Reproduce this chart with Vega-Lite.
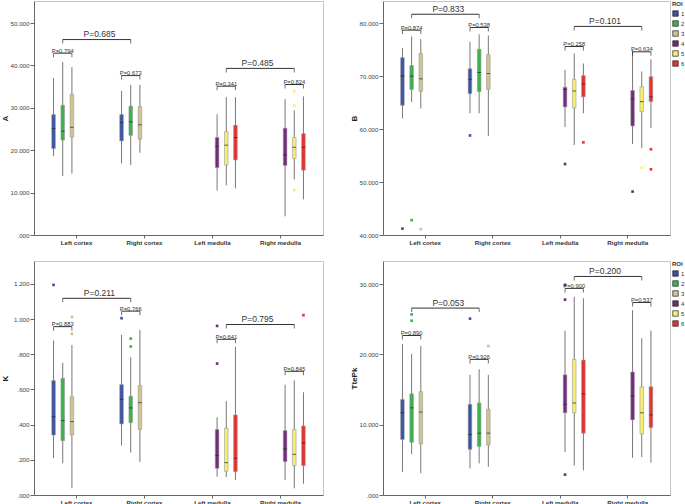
{
  "$schema": "https://vega.github.io/schema/vega-lite/v6.json",
  "padding": {"left": 0, "top": 0, "right": 0, "bottom": 0},
  "config": {
    "font": "Liberation Sans",
    "view": {"stroke": "#c6c6c6", "strokeWidth": 1},
    "axisX": {"labelFontSize": 6.2, "labelFontWeight": "bold", "labelColor": "#333", "tickSize": 3, "tickColor": "#666", "domainColor": "#666", "labelPadding": 1, "labelAngle": 0, "minExtent": 12, "maxExtent": 12, "grid": false},
    "axisY": {"labelFontSize": 6.2, "labelColor": "#444", "tickSize": 4, "tickColor": "#666", "domainColor": "#666", "labelPadding": 1, "labelOverlap": false, "tickCount": 12, "grid": false, "minExtent": 25, "maxExtent": 25, "titleFontSize": 8, "titleFontWeight": "bold", "titleColor": "#222", "titlePadding": 0},
    "legend": {"orient": "right", "offset": 2, "padding": 0, "titleFontSize": 6, "titleFontWeight": "bold", "titleColor": "#333", "titlePadding": 3, "labelFontSize": 6, "labelColor": "#333", "symbolSize": 30, "symbolType": "square", "symbolStrokeColor": "#222", "symbolStrokeWidth": 0.7, "rowPadding": 1, "labelOffset": 2}
  },
  "datasets": {
    "d": [
      {"p":"A","k":"box","r":"Left cortex","roi":1,"lo":18.6,"q1":20.4,"md":25.1,"q3":28.4,"hi":37.0},
      {"p":"A","k":"box","r":"Left cortex","roi":2,"lo":13.9,"q1":22.4,"md":24.5,"q3":30.6,"hi":40.8},
      {"p":"A","k":"box","r":"Left cortex","roi":3,"lo":14.5,"q1":23.1,"md":25.4,"q3":33.2,"hi":39.6},
      {"p":"A","k":"box","r":"Right cortex","roi":1,"lo":16.9,"q1":22.2,"md":26.5,"q3":28.4,"hi":34.0},
      {"p":"A","k":"box","r":"Right cortex","roi":2,"lo":16.5,"q1":23.5,"md":26.7,"q3":30.4,"hi":35.4},
      {"p":"A","k":"box","r":"Right cortex","roi":3,"lo":19.4,"q1":22.6,"md":26.0,"q3":30.3,"hi":35.4},
      {"p":"A","k":"box","r":"Left medulla","roi":4,"lo":10.5,"q1":15.9,"md":20.9,"q3":23.0,"hi":28.5},
      {"p":"A","k":"box","r":"Left medulla","roi":5,"lo":11.7,"q1":16.5,"md":21.2,"q3":24.4,"hi":32.5},
      {"p":"A","k":"box","r":"Left medulla","roi":6,"lo":11.0,"q1":17.7,"md":23.0,"q3":25.9,"hi":32.5},
      {"p":"A","k":"box","r":"Right medulla","roi":4,"lo":4.4,"q1":16.4,"md":18.9,"q3":25.2,"hi":32.1},
      {"p":"A","k":"box","r":"Right medulla","roi":5,"lo":13.1,"q1":18.0,"md":20.7,"q3":23.0,"hi":29.4},
      {"p":"A","k":"box","r":"Right medulla","roi":6,"lo":8.4,"q1":15.3,"md":20.7,"q3":23.9,"hi":32.7},
      {"p":"A","k":"out","r":"Right medulla","roi":5,"v":33.9},
      {"p":"A","k":"out","r":"Right medulla","roi":5,"v":30.5},
      {"p":"A","k":"out","r":"Right medulla","roi":5,"v":10.6},
      {"p":"A","k":"brk","id":"a1","r":"Left cortex","roi":1,"v":42.9},
      {"p":"A","k":"brk","id":"a1","r":"Left cortex","roi":3,"v":42.9},
      {"p":"A","k":"brk","id":"a2","r":"Left cortex","roi":2,"v":46.1},
      {"p":"A","k":"brk","id":"a2","r":"Right cortex","roi":2,"v":46.1},
      {"p":"A","k":"brk","id":"a3","r":"Right cortex","roi":1,"v":37.6},
      {"p":"A","k":"brk","id":"a3","r":"Right cortex","roi":3,"v":37.6},
      {"p":"A","k":"brk","id":"a4","r":"Left medulla","roi":5,"v":39.3},
      {"p":"A","k":"brk","id":"a4","r":"Right medulla","roi":5,"v":39.3},
      {"p":"A","k":"brk","id":"a5","r":"Left medulla","roi":4,"v":35.1},
      {"p":"A","k":"brk","id":"a5","r":"Left medulla","roi":6,"v":35.1},
      {"p":"A","k":"brk","id":"a6","r":"Right medulla","roi":4,"v":35.5},
      {"p":"A","k":"brk","id":"a6","r":"Right medulla","roi":6,"v":35.5},
      {"p":"A","k":"lab","r":"Left cortex","roi":2,"v":42.9,"t":"P=0.794","big":false},
      {"p":"A","k":"lab","r":"Left cortex","roi":6,"v":46.1,"t":"P=0.685","big":true},
      {"p":"A","k":"lab","r":"Right cortex","roi":2,"v":37.6,"t":"P=0.673","big":false},
      {"p":"A","k":"lab","r":"Right medulla","roi":1,"v":39.3,"t":"P=0.485","big":true},
      {"p":"A","k":"lab","r":"Left medulla","roi":5,"v":35.1,"t":"P=0.341","big":false},
      {"p":"A","k":"lab","r":"Right medulla","roi":5,"v":35.5,"t":"P=0.824","big":false},

      {"p":"B","k":"box","r":"Left cortex","roi":1,"lo":62.0,"q1":64.5,"md":70.0,"q3":73.5,"hi":75.3},
      {"p":"B","k":"box","r":"Left cortex","roi":2,"lo":65.1,"q1":67.5,"md":70.0,"q3":72.0,"hi":77.5},
      {"p":"B","k":"box","r":"Left cortex","roi":3,"lo":63.9,"q1":67.1,"md":69.5,"q3":74.3,"hi":77.0},
      {"p":"B","k":"box","r":"Right cortex","roi":1,"lo":63.0,"q1":66.7,"md":69.4,"q3":71.4,"hi":76.5},
      {"p":"B","k":"box","r":"Right cortex","roi":2,"lo":63.0,"q1":67.1,"md":70.7,"q3":75.1,"hi":77.9},
      {"p":"B","k":"box","r":"Right cortex","roi":3,"lo":58.7,"q1":67.5,"md":70.5,"q3":74.1,"hi":77.7},
      {"p":"B","k":"box","r":"Left medulla","roi":4,"lo":60.4,"q1":64.2,"md":67.5,"q3":67.9,"hi":71.2},
      {"p":"B","k":"box","r":"Left medulla","roi":5,"lo":57.0,"q1":64.0,"md":67.2,"q3":69.4,"hi":74.3},
      {"p":"B","k":"box","r":"Left medulla","roi":6,"lo":63.0,"q1":66.1,"md":68.5,"q3":70.1,"hi":72.4},
      {"p":"B","k":"box","r":"Right medulla","roi":4,"lo":57.2,"q1":60.6,"md":65.7,"q3":67.3,"hi":74.9},
      {"p":"B","k":"box","r":"Right medulla","roi":5,"lo":56.4,"q1":63.3,"md":65.2,"q3":68.0,"hi":70.9},
      {"p":"B","k":"box","r":"Right medulla","roi":6,"lo":60.2,"q1":65.2,"md":66.1,"q3":69.9,"hi":73.2},
      {"p":"B","k":"out","r":"Left cortex","roi":1,"v":41.2},
      {"p":"B","k":"out","r":"Left cortex","roi":2,"v":42.8},
      {"p":"B","k":"out","r":"Left cortex","roi":3,"v":41.1},
      {"p":"B","k":"out","r":"Right cortex","roi":1,"v":58.8},
      {"p":"B","k":"out","r":"Left medulla","roi":4,"v":53.4},
      {"p":"B","k":"out","r":"Left medulla","roi":6,"v":57.5},
      {"p":"B","k":"out","r":"Right medulla","roi":4,"v":48.2},
      {"p":"B","k":"out","r":"Right medulla","roi":5,"v":52.7},
      {"p":"B","k":"out","r":"Right medulla","roi":6,"v":56.2},
      {"p":"B","k":"out","r":"Right medulla","roi":6,"v":52.4},
      {"p":"B","k":"brk","id":"b1","r":"Left cortex","roi":1,"v":78.7},
      {"p":"B","k":"brk","id":"b1","r":"Left cortex","roi":3,"v":78.7},
      {"p":"B","k":"brk","id":"b2","r":"Left cortex","roi":2,"v":81.7},
      {"p":"B","k":"brk","id":"b2","r":"Right cortex","roi":2,"v":81.7},
      {"p":"B","k":"brk","id":"b3","r":"Right cortex","roi":1,"v":79.2},
      {"p":"B","k":"brk","id":"b3","r":"Right cortex","roi":3,"v":79.2},
      {"p":"B","k":"brk","id":"b4","r":"Left medulla","roi":5,"v":79.4},
      {"p":"B","k":"brk","id":"b4","r":"Right medulla","roi":5,"v":79.4},
      {"p":"B","k":"brk","id":"b5","r":"Left medulla","roi":4,"v":75.6},
      {"p":"B","k":"brk","id":"b5","r":"Left medulla","roi":6,"v":75.6},
      {"p":"B","k":"brk","id":"b6","r":"Right medulla","roi":4,"v":74.6},
      {"p":"B","k":"brk","id":"b6","r":"Right medulla","roi":6,"v":74.6},
      {"p":"B","k":"lab","r":"Left cortex","roi":2,"v":78.7,"t":"P=0.874","big":false},
      {"p":"B","k":"lab","r":"Left cortex","roi":6,"v":81.7,"t":"P=0.833","big":true},
      {"p":"B","k":"lab","r":"Right cortex","roi":2,"v":79.2,"t":"P=0.538","big":false},
      {"p":"B","k":"lab","r":"Right medulla","roi":1,"v":79.4,"t":"P=0.101","big":true},
      {"p":"B","k":"lab","r":"Left medulla","roi":5,"v":75.6,"t":"P=0.258","big":false},
      {"p":"B","k":"lab","r":"Right medulla","roi":5,"v":74.6,"t":"P=0.634","big":false},

      {"p":"K","k":"box","r":"Left cortex","roi":1,"lo":0.210,"q1":0.341,"md":0.445,"q3":0.650,"hi":0.878},
      {"p":"K","k":"box","r":"Left cortex","roi":2,"lo":0.180,"q1":0.309,"md":0.423,"q3":0.663,"hi":0.751},
      {"p":"K","k":"box","r":"Left cortex","roi":3,"lo":0.038,"q1":0.341,"md":0.417,"q3":0.559,"hi":0.853},
      {"p":"K","k":"box","r":"Right cortex","roi":1,"lo":0.281,"q1":0.404,"md":0.544,"q3":0.627,"hi":0.910},
      {"p":"K","k":"box","r":"Right cortex","roi":2,"lo":0.241,"q1":0.411,"md":0.495,"q3":0.561,"hi":0.783},
      {"p":"K","k":"box","r":"Right cortex","roi":3,"lo":0.188,"q1":0.372,"md":0.525,"q3":0.622,"hi":0.938},
      {"p":"K","k":"box","r":"Left medulla","roi":4,"lo":0.104,"q1":0.152,"md":0.224,"q3":0.372,"hi":0.442},
      {"p":"K","k":"box","r":"Left medulla","roi":5,"lo":0.102,"q1":0.135,"md":0.184,"q3":0.379,"hi":0.533},
      {"p":"K","k":"box","r":"Left medulla","roi":6,"lo":0.085,"q1":0.133,"md":0.209,"q3":0.455,"hi":0.842},
      {"p":"K","k":"box","r":"Right medulla","roi":4,"lo":0.085,"q1":0.190,"md":0.262,"q3":0.366,"hi":0.627},
      {"p":"K","k":"box","r":"Right medulla","roi":5,"lo":0.038,"q1":0.167,"md":0.231,"q3":0.372,"hi":0.652},
      {"p":"K","k":"box","r":"Right medulla","roi":6,"lo":0.064,"q1":0.167,"md":0.296,"q3":0.392,"hi":0.584},
      {"p":"K","k":"out","r":"Left cortex","roi":1,"v":1.194},
      {"p":"K","k":"out","r":"Left cortex","roi":3,"v":0.916},
      {"p":"K","k":"out","r":"Left cortex","roi":3,"v":1.012},
      {"p":"K","k":"out","r":"Right cortex","roi":1,"v":1.005},
      {"p":"K","k":"out","r":"Right cortex","roi":2,"v":0.889},
      {"p":"K","k":"out","r":"Right cortex","roi":2,"v":0.844},
      {"p":"K","k":"out","r":"Left medulla","roi":4,"v":0.961},
      {"p":"K","k":"out","r":"Left medulla","roi":4,"v":0.747},
      {"p":"K","k":"out","r":"Right medulla","roi":6,"v":1.022},
      {"p":"K","k":"brk","id":"k1","r":"Left cortex","roi":1,"v":0.957},
      {"p":"K","k":"brk","id":"k1","r":"Left cortex","roi":3,"v":0.957},
      {"p":"K","k":"brk","id":"k2","r":"Left cortex","roi":2,"v":1.118},
      {"p":"K","k":"brk","id":"k2","r":"Right cortex","roi":2,"v":1.118},
      {"p":"K","k":"brk","id":"k3","r":"Right cortex","roi":1,"v":1.045},
      {"p":"K","k":"brk","id":"k3","r":"Right cortex","roi":3,"v":1.045},
      {"p":"K","k":"brk","id":"k4","r":"Left medulla","roi":5,"v":0.969},
      {"p":"K","k":"brk","id":"k4","r":"Right medulla","roi":5,"v":0.969},
      {"p":"K","k":"brk","id":"k5","r":"Left medulla","roi":4,"v":0.885},
      {"p":"K","k":"brk","id":"k5","r":"Left medulla","roi":6,"v":0.885},
      {"p":"K","k":"brk","id":"k6","r":"Right medulla","roi":4,"v":0.703},
      {"p":"K","k":"brk","id":"k6","r":"Right medulla","roi":6,"v":0.703},
      {"p":"K","k":"lab","r":"Left cortex","roi":2,"v":0.957,"t":"P=0.883","big":false},
      {"p":"K","k":"lab","r":"Left cortex","roi":6,"v":1.118,"t":"P=0.211","big":true},
      {"p":"K","k":"lab","r":"Right cortex","roi":2,"v":1.045,"t":"P=0.766","big":false},
      {"p":"K","k":"lab","r":"Right medulla","roi":1,"v":0.969,"t":"P=0.795","big":true},
      {"p":"K","k":"lab","r":"Left medulla","roi":5,"v":0.885,"t":"P=0.641","big":false},
      {"p":"K","k":"lab","r":"Right medulla","roi":5,"v":0.703,"t":"P=0.845","big":false},

      {"p":"T","k":"box","r":"Left cortex","roi":1,"lo":3.3,"q1":7.9,"md":11.7,"q3":13.6,"hi":21.5},
      {"p":"T","k":"box","r":"Left cortex","roi":2,"lo":5.8,"q1":7.5,"md":12.4,"q3":14.4,"hi":20.1},
      {"p":"T","k":"box","r":"Left cortex","roi":3,"lo":3.1,"q1":7.3,"md":11.8,"q3":14.7,"hi":21.2},
      {"p":"T","k":"box","r":"Right cortex","roi":1,"lo":3.8,"q1":6.5,"md":8.6,"q3":12.9,"hi":17.1},
      {"p":"T","k":"box","r":"Right cortex","roi":2,"lo":4.5,"q1":6.9,"md":8.8,"q3":13.1,"hi":17.9},
      {"p":"T","k":"box","r":"Right cortex","roi":3,"lo":4.0,"q1":7.1,"md":8.8,"q3":12.2,"hi":17.1},
      {"p":"T","k":"box","r":"Left medulla","roi":4,"lo":6.1,"q1":11.7,"md":12.9,"q3":17.1,"hi":23.4},
      {"p":"T","k":"box","r":"Left medulla","roi":5,"lo":4.2,"q1":11.7,"md":13.1,"q3":19.3,"hi":28.2},
      {"p":"T","k":"box","r":"Left medulla","roi":6,"lo":3.5,"q1":8.8,"md":14.4,"q3":19.2,"hi":28.0},
      {"p":"T","k":"box","r":"Right medulla","roi":4,"lo":5.3,"q1":10.7,"md":14.1,"q3":17.5,"hi":26.3},
      {"p":"T","k":"box","r":"Right medulla","roi":5,"lo":5.4,"q1":8.7,"md":11.7,"q3":15.4,"hi":22.3},
      {"p":"T","k":"box","r":"Right medulla","roi":6,"lo":4.6,"q1":9.6,"md":11.4,"q3":15.4,"hi":23.4},
      {"p":"T","k":"out","r":"Left cortex","roi":2,"v":25.7},
      {"p":"T","k":"out","r":"Left cortex","roi":2,"v":24.8},
      {"p":"T","k":"out","r":"Right cortex","roi":1,"v":25.1},
      {"p":"T","k":"out","r":"Right cortex","roi":3,"v":21.2},
      {"p":"T","k":"out","r":"Left medulla","roi":4,"v":27.8},
      {"p":"T","k":"out","r":"Left medulla","roi":4,"v":29.9},
      {"p":"T","k":"out","r":"Left medulla","roi":4,"v":2.9},
      {"p":"T","k":"brk","id":"t1","r":"Left cortex","roi":1,"v":22.7},
      {"p":"T","k":"brk","id":"t1","r":"Left cortex","roi":3,"v":22.7},
      {"p":"T","k":"brk","id":"t2","r":"Left cortex","roi":2,"v":26.6},
      {"p":"T","k":"brk","id":"t2","r":"Right cortex","roi":2,"v":26.6},
      {"p":"T","k":"brk","id":"t3","r":"Right cortex","roi":1,"v":19.3},
      {"p":"T","k":"brk","id":"t3","r":"Right cortex","roi":3,"v":19.3},
      {"p":"T","k":"brk","id":"t4","r":"Left medulla","roi":5,"v":31.1},
      {"p":"T","k":"brk","id":"t4","r":"Right medulla","roi":5,"v":31.1},
      {"p":"T","k":"brk","id":"t5","r":"Left medulla","roi":4,"v":29.4},
      {"p":"T","k":"brk","id":"t5","r":"Left medulla","roi":6,"v":29.4},
      {"p":"T","k":"brk","id":"t6","r":"Right medulla","roi":4,"v":27.4},
      {"p":"T","k":"brk","id":"t6","r":"Right medulla","roi":6,"v":27.4},
      {"p":"T","k":"lab","r":"Left cortex","roi":2,"v":22.7,"t":"P=0.890","big":false},
      {"p":"T","k":"lab","r":"Left cortex","roi":6,"v":26.6,"t":"P=0.053","big":true},
      {"p":"T","k":"lab","r":"Right cortex","roi":2,"v":19.3,"t":"P=0.926","big":false},
      {"p":"T","k":"lab","r":"Right medulla","roi":1,"v":31.1,"t":"P=0.200","big":true},
      {"p":"T","k":"lab","r":"Left medulla","roi":5,"v":29.4,"t":"P=0.900","big":false},
      {"p":"T","k":"lab","r":"Right medulla","roi":5,"v":27.4,"t":"P=0.537","big":false}
    ]
  },
  "columns": 2,
  "spacing": {"row": 12, "column": 25},
  "resolve": {"legend": {"color": "independent"}},
  "concat": [
    {
      "width": 289, "height": 234,
      "data": {"name": "d"},
      "transform": [{"filter": "datum.p === 'A'"}],
      "encoding": {
        "x": {"field": "r", "type": "nominal", "title": null, "scale": {"domain": ["Left cortex", "Right cortex", "Left medulla", "Right medulla"], "paddingInner": 0.19, "paddingOuter": 0.22}},
        "xOffset": {"field": "roi", "type": "nominal", "scale": {"domain": [1, 2, 3, 4, 5, 6]}}
      },
      "layer": [
        {"transform": [{"filter": "datum.k === 'box'"}], "mark": {"type": "rule", "color": "#777", "strokeWidth": 1},
         "encoding": {"y": {"field": "lo", "type": "quantitative", "title": "A", "scale": {"domain": [0, 55.2], "nice": false, "zero": false}, "axis": {"values": [0, 10, 20, 30, 40, 50], "tickCount": 12, "labelOverlap": false, "labelExpr": "datum.value < 1 ? substring(format(datum.value, '.3f'), 1) : format(datum.value, '.3f')"}}, "y2": {"field": "hi"}}},
        {"transform": [{"filter": "datum.k === 'box'"}], "mark": {"type": "bar", "size": 3.6, "stroke": "#999", "strokeWidth": 0.6},
         "encoding": {"y": {"field": "q1", "type": "quantitative", "title": "A"}, "y2": {"field": "q3"}, "color": {"field": "roi", "type": "nominal", "scale": {"domain": [1, 2, 3, 4, 5, 6], "range": ["#3a53a4", "#3db24b", "#cfc591", "#76287f", "#f7f06e", "#e8312f"]}, "legend": null}}},
        {"transform": [{"filter": "datum.k === 'box'"}], "mark": {"type": "tick", "orient": "horizontal", "size": 3.6, "thickness": 1, "color": "#222"},
         "encoding": {"y": {"field": "md", "type": "quantitative", "title": "A"}}},
        {"transform": [{"filter": "datum.k === 'out'"}], "mark": {"type": "point", "shape": "square", "filled": true, "size": 7, "opacity": 1},
         "encoding": {"y": {"field": "v", "type": "quantitative", "title": "A"}, "color": {"field": "roi", "type": "nominal", "legend": null}}},
        {"transform": [{"filter": "datum.k === 'brk'"}], "mark": {"type": "line", "color": "#333", "strokeWidth": 1},
         "encoding": {"y": {"field": "v", "type": "quantitative", "title": "A"}, "detail": {"field": "id"}}},
        {"transform": [{"filter": "datum.k === 'brk'"}], "mark": {"type": "tick", "orient": "vertical", "size": 4, "thickness": 1, "color": "#333", "yOffset": 2},
         "encoding": {"y": {"field": "v", "type": "quantitative", "title": "A"}}},
        {"transform": [{"filter": "datum.k === 'lab' && !datum.big"}], "mark": {"type": "text", "fontSize": 5.8, "color": "#333", "baseline": "alphabetic", "dy": -0.5},
         "encoding": {"y": {"field": "v", "type": "quantitative", "title": "A"}, "text": {"field": "t"}}},
        {"transform": [{"filter": "datum.k === 'lab' && datum.big"}], "mark": {"type": "text", "fontSize": 8.5, "color": "#333", "baseline": "alphabetic", "dy": -2.5},
         "encoding": {"y": {"field": "v", "type": "quantitative", "title": "A"}, "text": {"field": "t"}}}
      ]
    },
    {
      "width": 287, "height": 234,
      "data": {"name": "d"},
      "transform": [{"filter": "datum.p === 'B'"}],
      "encoding": {
        "x": {"field": "r", "type": "nominal", "title": null, "scale": {"domain": ["Left cortex", "Right cortex", "Left medulla", "Right medulla"], "paddingInner": 0.19, "paddingOuter": 0.22}},
        "xOffset": {"field": "roi", "type": "nominal", "scale": {"domain": [1, 2, 3, 4, 5, 6]}}
      },
      "layer": [
        {"transform": [{"filter": "datum.k === 'box'"}], "mark": {"type": "rule", "color": "#777", "strokeWidth": 1},
         "encoding": {"y": {"field": "lo", "type": "quantitative", "title": "B", "scale": {"domain": [40, 84.2], "nice": false, "zero": false}, "axis": {"values": [40, 50, 60, 70, 80], "tickCount": 12, "labelOverlap": false, "labelExpr": "datum.value < 1 ? substring(format(datum.value, '.3f'), 1) : format(datum.value, '.3f')"}}, "y2": {"field": "hi"}}},
        {"transform": [{"filter": "datum.k === 'box'"}], "mark": {"type": "bar", "size": 3.6, "stroke": "#999", "strokeWidth": 0.6},
         "encoding": {"y": {"field": "q1", "type": "quantitative", "title": "B"}, "y2": {"field": "q3"}, "color": {"field": "roi", "type": "nominal", "title": "ROI", "scale": {"domain": [1, 2, 3, 4, 5, 6], "range": ["#3a53a4", "#3db24b", "#cfc591", "#76287f", "#f7f06e", "#e8312f"]}, "legend": {"symbolType": "square"}}}},
        {"transform": [{"filter": "datum.k === 'box'"}], "mark": {"type": "tick", "orient": "horizontal", "size": 3.6, "thickness": 1, "color": "#222"},
         "encoding": {"y": {"field": "md", "type": "quantitative", "title": "B"}}},
        {"transform": [{"filter": "datum.k === 'out'"}], "mark": {"type": "point", "shape": "square", "filled": true, "size": 7, "opacity": 1},
         "encoding": {"y": {"field": "v", "type": "quantitative", "title": "B"}, "color": {"field": "roi", "type": "nominal", "title": "ROI", "legend": {"symbolType": "square"}}}},
        {"transform": [{"filter": "datum.k === 'brk'"}], "mark": {"type": "line", "color": "#333", "strokeWidth": 1},
         "encoding": {"y": {"field": "v", "type": "quantitative", "title": "B"}, "detail": {"field": "id"}}},
        {"transform": [{"filter": "datum.k === 'brk'"}], "mark": {"type": "tick", "orient": "vertical", "size": 4, "thickness": 1, "color": "#333", "yOffset": 2},
         "encoding": {"y": {"field": "v", "type": "quantitative", "title": "B"}}},
        {"transform": [{"filter": "datum.k === 'lab' && !datum.big"}], "mark": {"type": "text", "fontSize": 5.8, "color": "#333", "baseline": "alphabetic", "dy": -0.5},
         "encoding": {"y": {"field": "v", "type": "quantitative", "title": "B"}, "text": {"field": "t"}}},
        {"transform": [{"filter": "datum.k === 'lab' && datum.big"}], "mark": {"type": "text", "fontSize": 8.5, "color": "#333", "baseline": "alphabetic", "dy": -2.5},
         "encoding": {"y": {"field": "v", "type": "quantitative", "title": "B"}, "text": {"field": "t"}}}
      ]
    },
    {
      "width": 289, "height": 234,
      "data": {"name": "d"},
      "transform": [{"filter": "datum.p === 'K'"}],
      "encoding": {
        "x": {"field": "r", "type": "nominal", "title": null, "scale": {"domain": ["Left cortex", "Right cortex", "Left medulla", "Right medulla"], "paddingInner": 0.19, "paddingOuter": 0.22}},
        "xOffset": {"field": "roi", "type": "nominal", "scale": {"domain": [1, 2, 3, 4, 5, 6]}}
      },
      "layer": [
        {"transform": [{"filter": "datum.k === 'box'"}], "mark": {"type": "rule", "color": "#777", "strokeWidth": 1},
         "encoding": {"y": {"field": "lo", "type": "quantitative", "title": "K", "scale": {"domain": [0, 1.33], "nice": false, "zero": false}, "axis": {"values": [0, 0.2, 0.4, 0.6, 0.8, 1.0, 1.2], "tickCount": 12, "labelOverlap": false, "labelExpr": "datum.value < 0.999 ? substring(format(datum.value, '.3f'), 1) : format(datum.value, '.3f')"}}, "y2": {"field": "hi"}}},
        {"transform": [{"filter": "datum.k === 'box'"}], "mark": {"type": "bar", "size": 3.6, "stroke": "#999", "strokeWidth": 0.6},
         "encoding": {"y": {"field": "q1", "type": "quantitative", "title": "K"}, "y2": {"field": "q3"}, "color": {"field": "roi", "type": "nominal", "scale": {"domain": [1, 2, 3, 4, 5, 6], "range": ["#3a53a4", "#3db24b", "#cfc591", "#76287f", "#f7f06e", "#e8312f"]}, "legend": null}}},
        {"transform": [{"filter": "datum.k === 'box'"}], "mark": {"type": "tick", "orient": "horizontal", "size": 3.6, "thickness": 1, "color": "#222"},
         "encoding": {"y": {"field": "md", "type": "quantitative", "title": "K"}}},
        {"transform": [{"filter": "datum.k === 'out'"}], "mark": {"type": "point", "shape": "square", "filled": true, "size": 7, "opacity": 1},
         "encoding": {"y": {"field": "v", "type": "quantitative", "title": "K"}, "color": {"field": "roi", "type": "nominal", "legend": null}}},
        {"transform": [{"filter": "datum.k === 'brk'"}], "mark": {"type": "line", "color": "#333", "strokeWidth": 1},
         "encoding": {"y": {"field": "v", "type": "quantitative", "title": "K"}, "detail": {"field": "id"}}},
        {"transform": [{"filter": "datum.k === 'brk'"}], "mark": {"type": "tick", "orient": "vertical", "size": 4, "thickness": 1, "color": "#333", "yOffset": 2},
         "encoding": {"y": {"field": "v", "type": "quantitative", "title": "K"}}},
        {"transform": [{"filter": "datum.k === 'lab' && !datum.big"}], "mark": {"type": "text", "fontSize": 5.8, "color": "#333", "baseline": "alphabetic", "dy": -0.5},
         "encoding": {"y": {"field": "v", "type": "quantitative", "title": "K"}, "text": {"field": "t"}}},
        {"transform": [{"filter": "datum.k === 'lab' && datum.big"}], "mark": {"type": "text", "fontSize": 8.5, "color": "#333", "baseline": "alphabetic", "dy": -2.5},
         "encoding": {"y": {"field": "v", "type": "quantitative", "title": "K"}, "text": {"field": "t"}}}
      ]
    },
    {
      "width": 287, "height": 234,
      "data": {"name": "d"},
      "transform": [{"filter": "datum.p === 'T'"}],
      "encoding": {
        "x": {"field": "r", "type": "nominal", "title": null, "scale": {"domain": ["Left cortex", "Right cortex", "Left medulla", "Right medulla"], "paddingInner": 0.19, "paddingOuter": 0.22}},
        "xOffset": {"field": "roi", "type": "nominal", "scale": {"domain": [1, 2, 3, 4, 5, 6]}}
      },
      "layer": [
        {"transform": [{"filter": "datum.k === 'box'"}], "mark": {"type": "rule", "color": "#777", "strokeWidth": 1},
         "encoding": {"y": {"field": "lo", "type": "quantitative", "title": "TtePk", "scale": {"domain": [0, 33.3], "nice": false, "zero": false}, "axis": {"values": [0, 10, 20, 30], "tickCount": 12, "labelOverlap": false, "labelExpr": "datum.value < 1 ? substring(format(datum.value, '.3f'), 1) : format(datum.value, '.3f')"}}, "y2": {"field": "hi"}}},
        {"transform": [{"filter": "datum.k === 'box'"}], "mark": {"type": "bar", "size": 3.6, "stroke": "#999", "strokeWidth": 0.6},
         "encoding": {"y": {"field": "q1", "type": "quantitative", "title": "TtePk"}, "y2": {"field": "q3"}, "color": {"field": "roi", "type": "nominal", "title": "ROI", "scale": {"domain": [1, 2, 3, 4, 5, 6], "range": ["#3a53a4", "#3db24b", "#cfc591", "#76287f", "#f7f06e", "#e8312f"]}, "legend": {"symbolType": "square"}}}},
        {"transform": [{"filter": "datum.k === 'box'"}], "mark": {"type": "tick", "orient": "horizontal", "size": 3.6, "thickness": 1, "color": "#222"},
         "encoding": {"y": {"field": "md", "type": "quantitative", "title": "TtePk"}}},
        {"transform": [{"filter": "datum.k === 'out'"}], "mark": {"type": "point", "shape": "square", "filled": true, "size": 7, "opacity": 1},
         "encoding": {"y": {"field": "v", "type": "quantitative", "title": "TtePk"}, "color": {"field": "roi", "type": "nominal", "title": "ROI", "legend": {"symbolType": "square"}}}},
        {"transform": [{"filter": "datum.k === 'brk'"}], "mark": {"type": "line", "color": "#333", "strokeWidth": 1},
         "encoding": {"y": {"field": "v", "type": "quantitative", "title": "TtePk"}, "detail": {"field": "id"}}},
        {"transform": [{"filter": "datum.k === 'brk'"}], "mark": {"type": "tick", "orient": "vertical", "size": 4, "thickness": 1, "color": "#333", "yOffset": 2},
         "encoding": {"y": {"field": "v", "type": "quantitative", "title": "TtePk"}}},
        {"transform": [{"filter": "datum.k === 'lab' && !datum.big"}], "mark": {"type": "text", "fontSize": 5.8, "color": "#333", "baseline": "alphabetic", "dy": -0.5},
         "encoding": {"y": {"field": "v", "type": "quantitative", "title": "TtePk"}, "text": {"field": "t"}}},
        {"transform": [{"filter": "datum.k === 'lab' && datum.big"}], "mark": {"type": "text", "fontSize": 8.5, "color": "#333", "baseline": "alphabetic", "dy": -2.5},
         "encoding": {"y": {"field": "v", "type": "quantitative", "title": "TtePk"}, "text": {"field": "t"}}}
      ]
    }
  ]
}
